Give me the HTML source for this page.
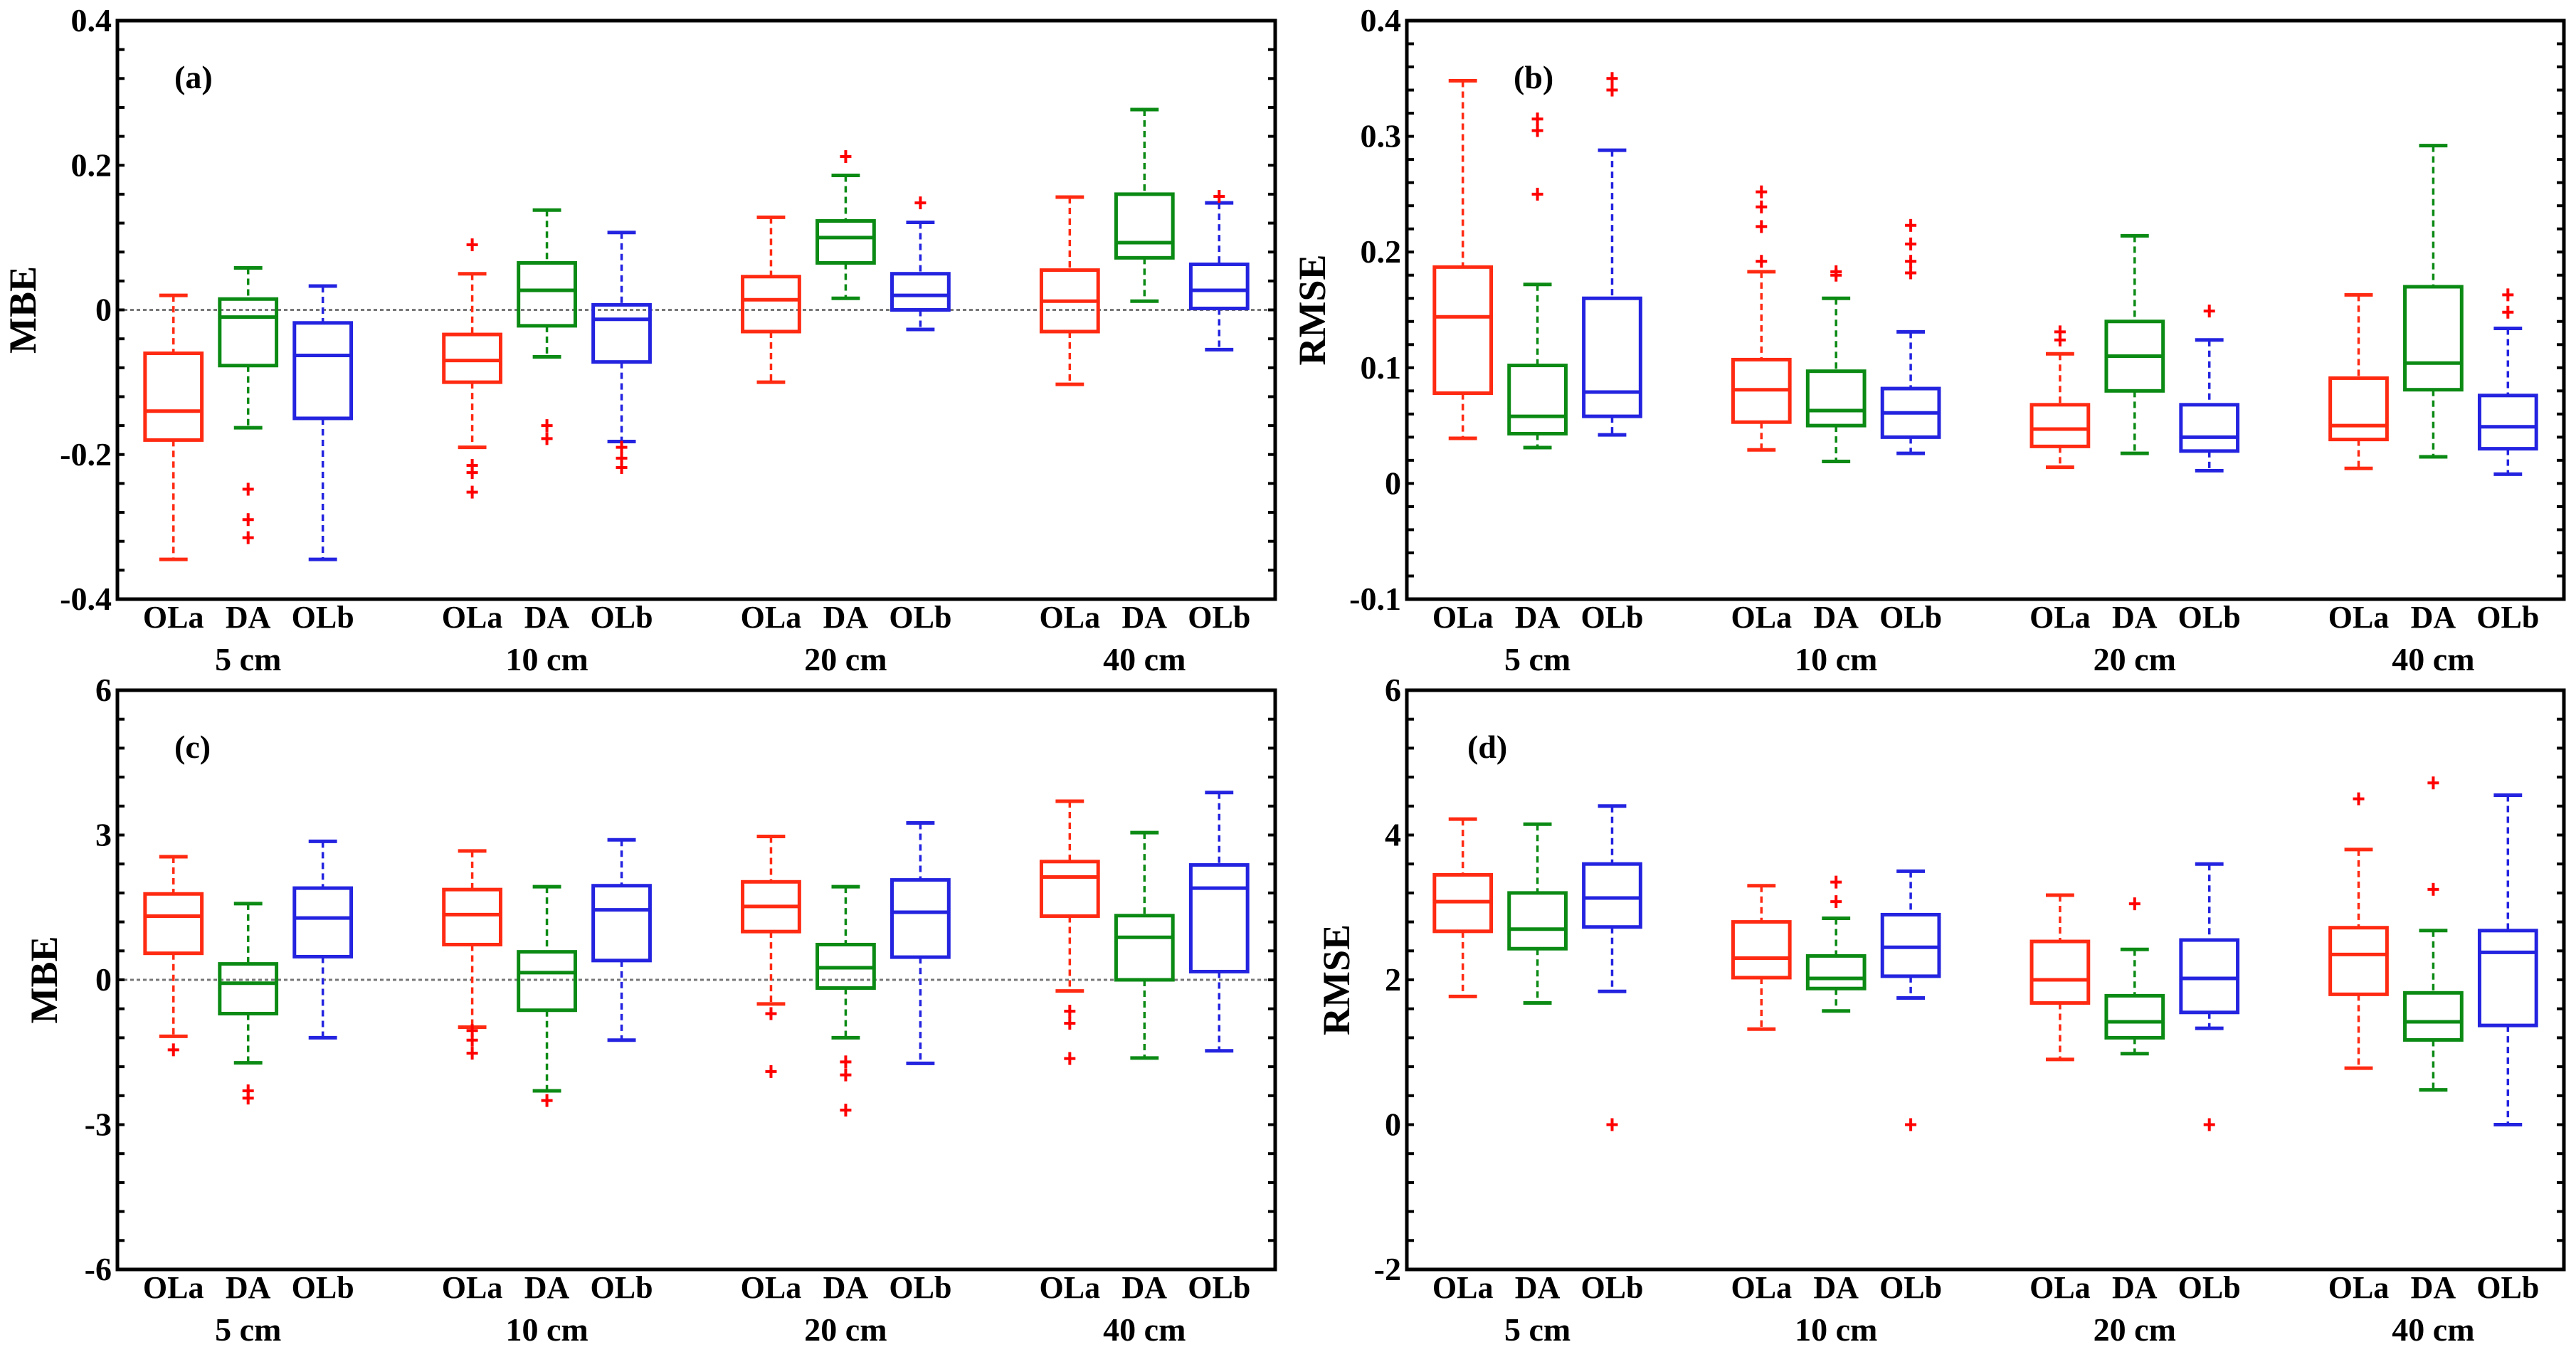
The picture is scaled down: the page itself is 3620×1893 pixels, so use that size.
<!DOCTYPE html>
<html><head><meta charset="utf-8"><style>
html,body{margin:0;padding:0;background:#fff;}
svg{display:block;}
text{font-family:"Liberation Serif",serif;font-weight:bold;fill:#000;}
</style></head>
<body>
<svg id="fig" width="3620" height="1893" viewBox="0 0 3620 1893" xmlns="http://www.w3.org/2000/svg"></svg>
<script>
const depths = ["5 cm","10 cm","20 cm","40 cm"];
const methods = ["OLa","DA","OLb"];
const statsA = [
 [0.02,-0.06,-0.14,-0.18,-0.345],[0.058,0.015,-0.01,-0.077,-0.163],[0.033,-0.018,-0.063,-0.15,-0.345],
 [0.05,-0.034,-0.07,-0.1,-0.19],[0.138,0.065,0.027,-0.022,-0.065],[0.107,0.007,-0.013,-0.072,-0.182],
 [0.128,0.046,0.014,-0.03,-0.1],[0.186,0.123,0.1,0.065,0.016],[0.121,0.05,0.02,0,-0.027],
 [0.156,0.055,0.012,-0.03,-0.103],[0.277,0.16,0.093,0.072,0.012],[0.148,0.063,0.027,0.002,-0.055]];
const outA = [[],[-0.248,-0.29,-0.315],[],[0.09,-0.215,-0.225,-0.252],[-0.16,-0.178],[-0.19,-0.205,-0.218],
 [],[0.212],[0.148],[],[],[0.157]];
const statsB = [
 [0.348,0.187,0.144,0.078,0.039],[0.172,0.102,0.058,0.043,0.031],[0.288,0.16,0.079,0.058,0.042],
 [0.183,0.107,0.081,0.053,0.029],[0.16,0.097,0.063,0.05,0.019],[0.131,0.082,0.061,0.04,0.026],
 [0.112,0.068,0.047,0.032,0.014],[0.214,0.14,0.11,0.08,0.026],[0.124,0.068,0.04,0.028,0.011],
 [0.163,0.091,0.05,0.038,0.013],[0.292,0.17,0.104,0.081,0.023],[0.134,0.076,0.049,0.03,0.008]];
const outB = [[],[0.315,0.305,0.25],[0.35,0.34],[0.252,0.239,0.222,0.192],[0.183,0.18],[0.223,0.207,0.192,0.182],
 [0.131,0.124],[],[0.149],[],[],[0.163,0.148]];
const statsC = [
 [2.55,1.78,1.32,0.55,-1.17],[1.58,0.33,-0.07,-0.7,-1.72],[2.87,1.9,1.28,0.48,-1.2],
 [2.67,1.87,1.35,0.73,-0.98],[1.93,0.58,0.15,-0.63,-2.3],[2.9,1.95,1.45,0.4,-1.25],
 [2.97,2.03,1.52,1.0,-0.5],[1.93,0.73,0.25,-0.17,-1.2],[3.25,2.07,1.4,0.47,-1.73],
 [3.7,2.45,2.13,1.32,-0.23],[3.05,1.33,0.88,0,-1.62],[3.88,2.38,1.9,0.17,-1.47]];
const outC = [[-1.45],[-2.3,-2.45],[],[-1.05,-1.25,-1.52],[-2.5],[],[-0.7,-1.9],[-1.7,-1.97,-2.7],[],[-0.65,-0.9,-1.63],[],[]];
const statsD = [
 [4.22,3.45,3.08,2.67,1.77],[4.15,3.2,2.7,2.43,1.68],[4.4,3.6,3.13,2.73,1.84],
 [3.3,2.8,2.3,2.03,1.32],[2.85,2.33,2.02,1.88,1.57],[3.5,2.9,2.45,2.05,1.75],
 [3.17,2.53,2.0,1.68,0.9],[2.42,1.78,1.42,1.2,0.98],[3.6,2.55,2.02,1.55,1.33],
 [3.8,2.72,2.35,1.8,0.78],[2.68,1.82,1.42,1.17,0.48],[4.55,2.68,2.38,1.37,0]];
const outD = [[],[],[0],[],[3.35,3.08],[0],[],[3.05],[0],[4.5],[4.72,3.25],[]];
const ticksA = [-0.4,-0.2,0,0.2,0.4];
const tickLabA = ["-0.4","-0.2","0","0.2","0.4"];
const ticksB = [-0.1,0,0.1,0.2,0.3,0.4];
const tickLabB = ["-0.1","0","0.1","0.2","0.3","0.4"];
const ticksC = [-6,-3,0,3,6];
const tickLabC = ["-6","-3","0","3","6"];
const ticksD = [-2,0,2,4,6];
const tickLabD = ["-2","0","2","4","6"];

const svg = document.getElementById('fig');
const NS = "http://www.w3.org/2000/svg";
const COLORS = ["#ff2a12","#0b8a14","#2323e0"];
function mk(tag, attrs, parent){
  const e = document.createElementNS(NS, tag);
  for (const k in attrs) e.setAttribute(k, attrs[k]);
  (parent||svg).appendChild(e);
  return e;
}
function panel(cfg){
  const g = mk('g', {});
  
  
  const L=cfg.x0, R=cfg.x1, T=cfg.y0, B=cfg.y1;
  const ys = v => B - (v - cfg.ymin)/(cfg.ymax - cfg.ymin)*(B-T);
  const xs = k => L + (k - 0.25)/15.5*(R-L);
  if (cfg.zero){
    const z = mk('line',{x1:L,x2:R,y1:ys(0),y2:ys(0),stroke:'#777','stroke-width':3,'stroke-dasharray':'5,4'},g);
    
    
  }
  const step = (cfg.ticks[1]-cfg.ticks[0])/5;
  for (let v = cfg.ymin; v <= cfg.ymax + 1e-9; v += step){
    const y = ys(v);
    mk('line',{x1:L,x2:L+10,y1:y,y2:y,stroke:'#000','stroke-width':4},g);
    mk('line',{x1:R,x2:R-10,y1:y,y2:y,stroke:'#000','stroke-width':4},g);
  }
  cfg.ticks.forEach((v,i)=>{
    const t = mk('text',{x:L-8,y:ys(v)+15,'text-anchor':'end','font-size':46},g);
    t.textContent = cfg.tickLabels[i];
    
    
  });
  cfg.stats.forEach((s,i)=>{
    const grp = Math.floor(i/3), m = i%3;
    const k = grp*4 + m + 1;
    const cx = xs(k), col = COLORS[m];
    const bw = (R-L)/15.5*0.76, cw = (R-L)/15.5*0.38;
    const bg = mk('g',{},g);
    
    
    mk('line',{x1:cx,x2:cx,y1:ys(s[0]),y2:ys(s[1]),stroke:col,'stroke-width':3.5,'stroke-dasharray':'9,6'},bg);
    mk('line',{x1:cx,x2:cx,y1:ys(s[3]),y2:ys(s[4]),stroke:col,'stroke-width':3.5,'stroke-dasharray':'9,6'},bg);
    mk('line',{x1:cx-cw/2,x2:cx+cw/2,y1:ys(s[0]),y2:ys(s[0]),stroke:col,'stroke-width':5},bg);
    mk('line',{x1:cx-cw/2,x2:cx+cw/2,y1:ys(s[4]),y2:ys(s[4]),stroke:col,'stroke-width':5},bg);
    mk('rect',{x:cx-bw/2,y:ys(s[1]),width:bw,height:Math.max(0,ys(s[3])-ys(s[1])),fill:'none',stroke:col,'stroke-width':5},bg);
    mk('line',{x1:cx-bw/2,x2:cx+bw/2,y1:ys(s[2]),y2:ys(s[2]),stroke:col,'stroke-width':5},bg);
    cfg.out[i].forEach(v=>{
      const y = ys(v);
      mk('line',{x1:cx-8,x2:cx+8,y1:y,y2:y,stroke:'#ff0000','stroke-width':4},bg);
      mk('line',{x1:cx,x2:cx,y1:y-9,y2:y+9,stroke:'#ff0000','stroke-width':4},bg);
    });
    const lab = mk('text',{x:cx,y:B+40,'text-anchor':'middle','font-size':44},g);
    lab.textContent = methods[m];
    
    
  });
  depths.forEach((d,j)=>{
    const t = mk('text',{x:xs(j*4+2),y:B+100,'text-anchor':'middle','font-size':46},g);
    t.textContent = d;
    
    
  });
  const fr = mk('rect',{x:L,y:T,width:R-L,height:B-T,fill:'none',stroke:'#000','stroke-width':5},g);
  
  
  const pl = mk('text',{x:L+cfg.lblx,y:T+95,'font-size':46},g);
  pl.textContent = '(' + cfg.id + ')';
  
  
  const yl = mk('text',{x:0,y:0,'text-anchor':'middle','font-size':54,'transform':'translate('+cfg.ylx+','+((T+B)/2)+') rotate(-90)'},g);
  yl.textContent = cfg.ylabel;
  
  
}
panel({id:'a',x0:165,x1:1792,y0:29,y1:842,ymin:-0.4,ymax:0.4,ticks:ticksA,tickLabels:tickLabA,stats:statsA,out:outA,zero:true,ylabel:'MBE',ylx:50,lblx:80});
panel({id:'b',x0:1977,x1:3603,y0:29,y1:842,ymin:-0.1,ymax:0.4,ticks:ticksB,tickLabels:tickLabB,stats:statsB,out:outB,zero:false,ylabel:'RMSE',ylx:1862,lblx:150});
panel({id:'c',x0:165,x1:1792,y0:970,y1:1784,ymin:-6,ymax:6,ticks:ticksC,tickLabels:tickLabC,stats:statsC,out:outC,zero:true,ylabel:'MBE',ylx:80,lblx:80});
panel({id:'d',x0:1977,x1:3603,y0:970,y1:1784,ymin:-2,ymax:6,ticks:ticksD,tickLabels:tickLabD,stats:statsD,out:outD,zero:false,ylabel:'RMSE',ylx:1896,lblx:85});
</script>
</body></html>
